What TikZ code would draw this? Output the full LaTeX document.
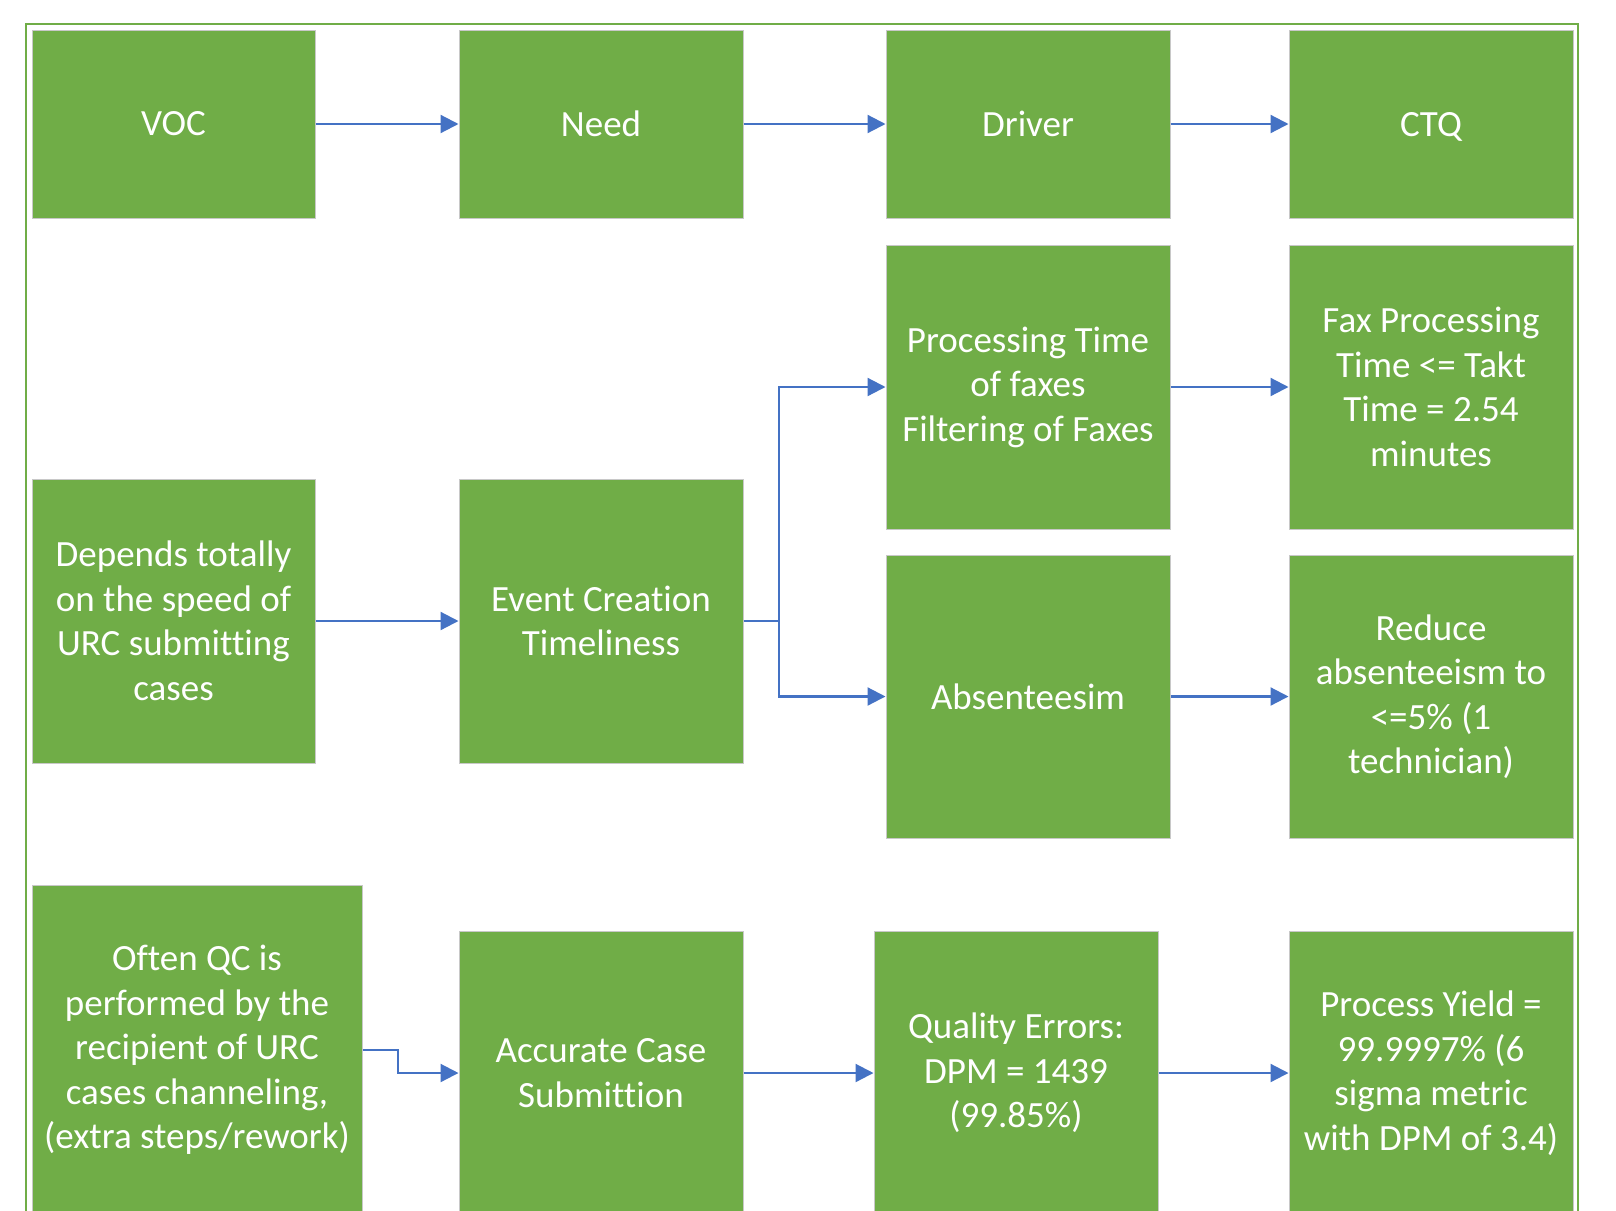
\documentclass[tikz,border=0pt]{standalone}
\usepackage{fontspec}
\setmainfont{Carlito}[Ligatures={NoCommon}]
\usetikzlibrary{arrows.meta}
\definecolor{boxgreen}{HTML}{70AD47}
\definecolor{framegreen}{HTML}{70AD47}
\definecolor{linkblue}{HTML}{4472C4}
\definecolor{boxedge}{HTML}{C8C8C8}
\tikzset{
  stepbox/.style={rectangle, fill=boxgreen, draw=boxedge, line width=1pt,
    text=white, align=center, inner sep=0pt,
    font=\fontsize{37}{44.5}\selectfont},
  link/.style={draw=linkblue, line width=2.2pt,
    -{Triangle[length=18pt,width=18pt]}},
  bare/.style={draw=linkblue, line width=2.2pt}
}
\begin{document}
\begin{tikzpicture}[x=1pt,y=-1pt]
\useasboundingbox (0,0) rectangle (1616,1210);
\clip (0,0) rectangle (1616,1210);
% outer frame
\draw[framegreen, line width=1.6pt] (26,1260) -- (26,24) -- (1578,24) -- (1578,1260);

% header row
\node[stepbox, minimum width=283pt, minimum height=188pt] (voc) at (173.5,124) {VOC};
\node[stepbox, minimum width=284pt, minimum height=188pt] (need) at (601,124) {Need};
\node[stepbox, minimum width=284pt, minimum height=188pt] (drv) at (1028,124) {Driver};
\node[stepbox, minimum width=284pt, minimum height=188pt] (ctq) at (1431,124)
  {\raisebox{0pt}[\height][0pt]{CTQ}};

% timeliness branch
\node[stepbox, minimum width=283pt, minimum height=284pt] (dep) at (173.5,621)
  {Depends totally\\on the speed of\\URC submitting\\cases};
\node[stepbox, minimum width=284pt, minimum height=284pt] (evt) at (601,621)
  {Event Creation\\Timeliness};
\node[stepbox, minimum width=284pt, minimum height=284pt] (proc) at (1028,387)
  {Processing Time\\of faxes\\Filtering of Faxes};
\node[stepbox, minimum width=284pt, minimum height=284pt] (fax) at (1431,387)
  {Fax Processing\\Time <= Takt\\Time = 2.54\\minutes};
\node[stepbox, minimum width=284pt, minimum height=283pt] (abs) at (1028,696.5)
  {Absenteesim};
\node[stepbox, minimum width=284pt, minimum height=283pt] (red) at (1431,696.5)
  {Reduce\\absenteeism to\\<=5\% (1\\technician)};

% accuracy branch
\node[stepbox, minimum width=330pt, minimum height=330pt] (qc) at (197,1050)
  {Often QC is\\performed by the\\recipient of URC\\cases channeling,\\(extra steps/rework)};
\node[stepbox, minimum width=284pt, minimum height=284pt] (acc) at (601,1073)
  {Accurate Case\\Submittion};
\node[stepbox, minimum width=284pt, minimum height=284pt] (qe) at (1016,1073)
  {Quality Errors:\\DPM = 1439\\(99.85\%)};
\node[stepbox, minimum width=284pt, minimum height=284pt] (py) at (1431,1073)
  {Process Yield =\\99.9997\% (6\\sigma metric\\with DPM of 3.4)};

% connectors
\draw[link] (voc) -- (need);
\draw[link] (need) -- (drv);
\draw[link] (drv) -- (ctq);
\draw[link] (dep) -- (evt);
\coordinate (split) at (779,621);
\draw[bare] (evt.east) -- (split);
\draw[link] (split) |- (proc.west);
\draw[link] (split) |- (abs.west);
\draw[link] (proc) -- (fax);
\draw[link] (abs) -- (red);
\coordinate (jog) at (398,1050);
\draw[link] (qc.east) -- (jog) |- (acc.west);
\draw[link] (acc) -- (qe);
\draw[link] (qe) -- (py);
\end{tikzpicture}
\end{document}
